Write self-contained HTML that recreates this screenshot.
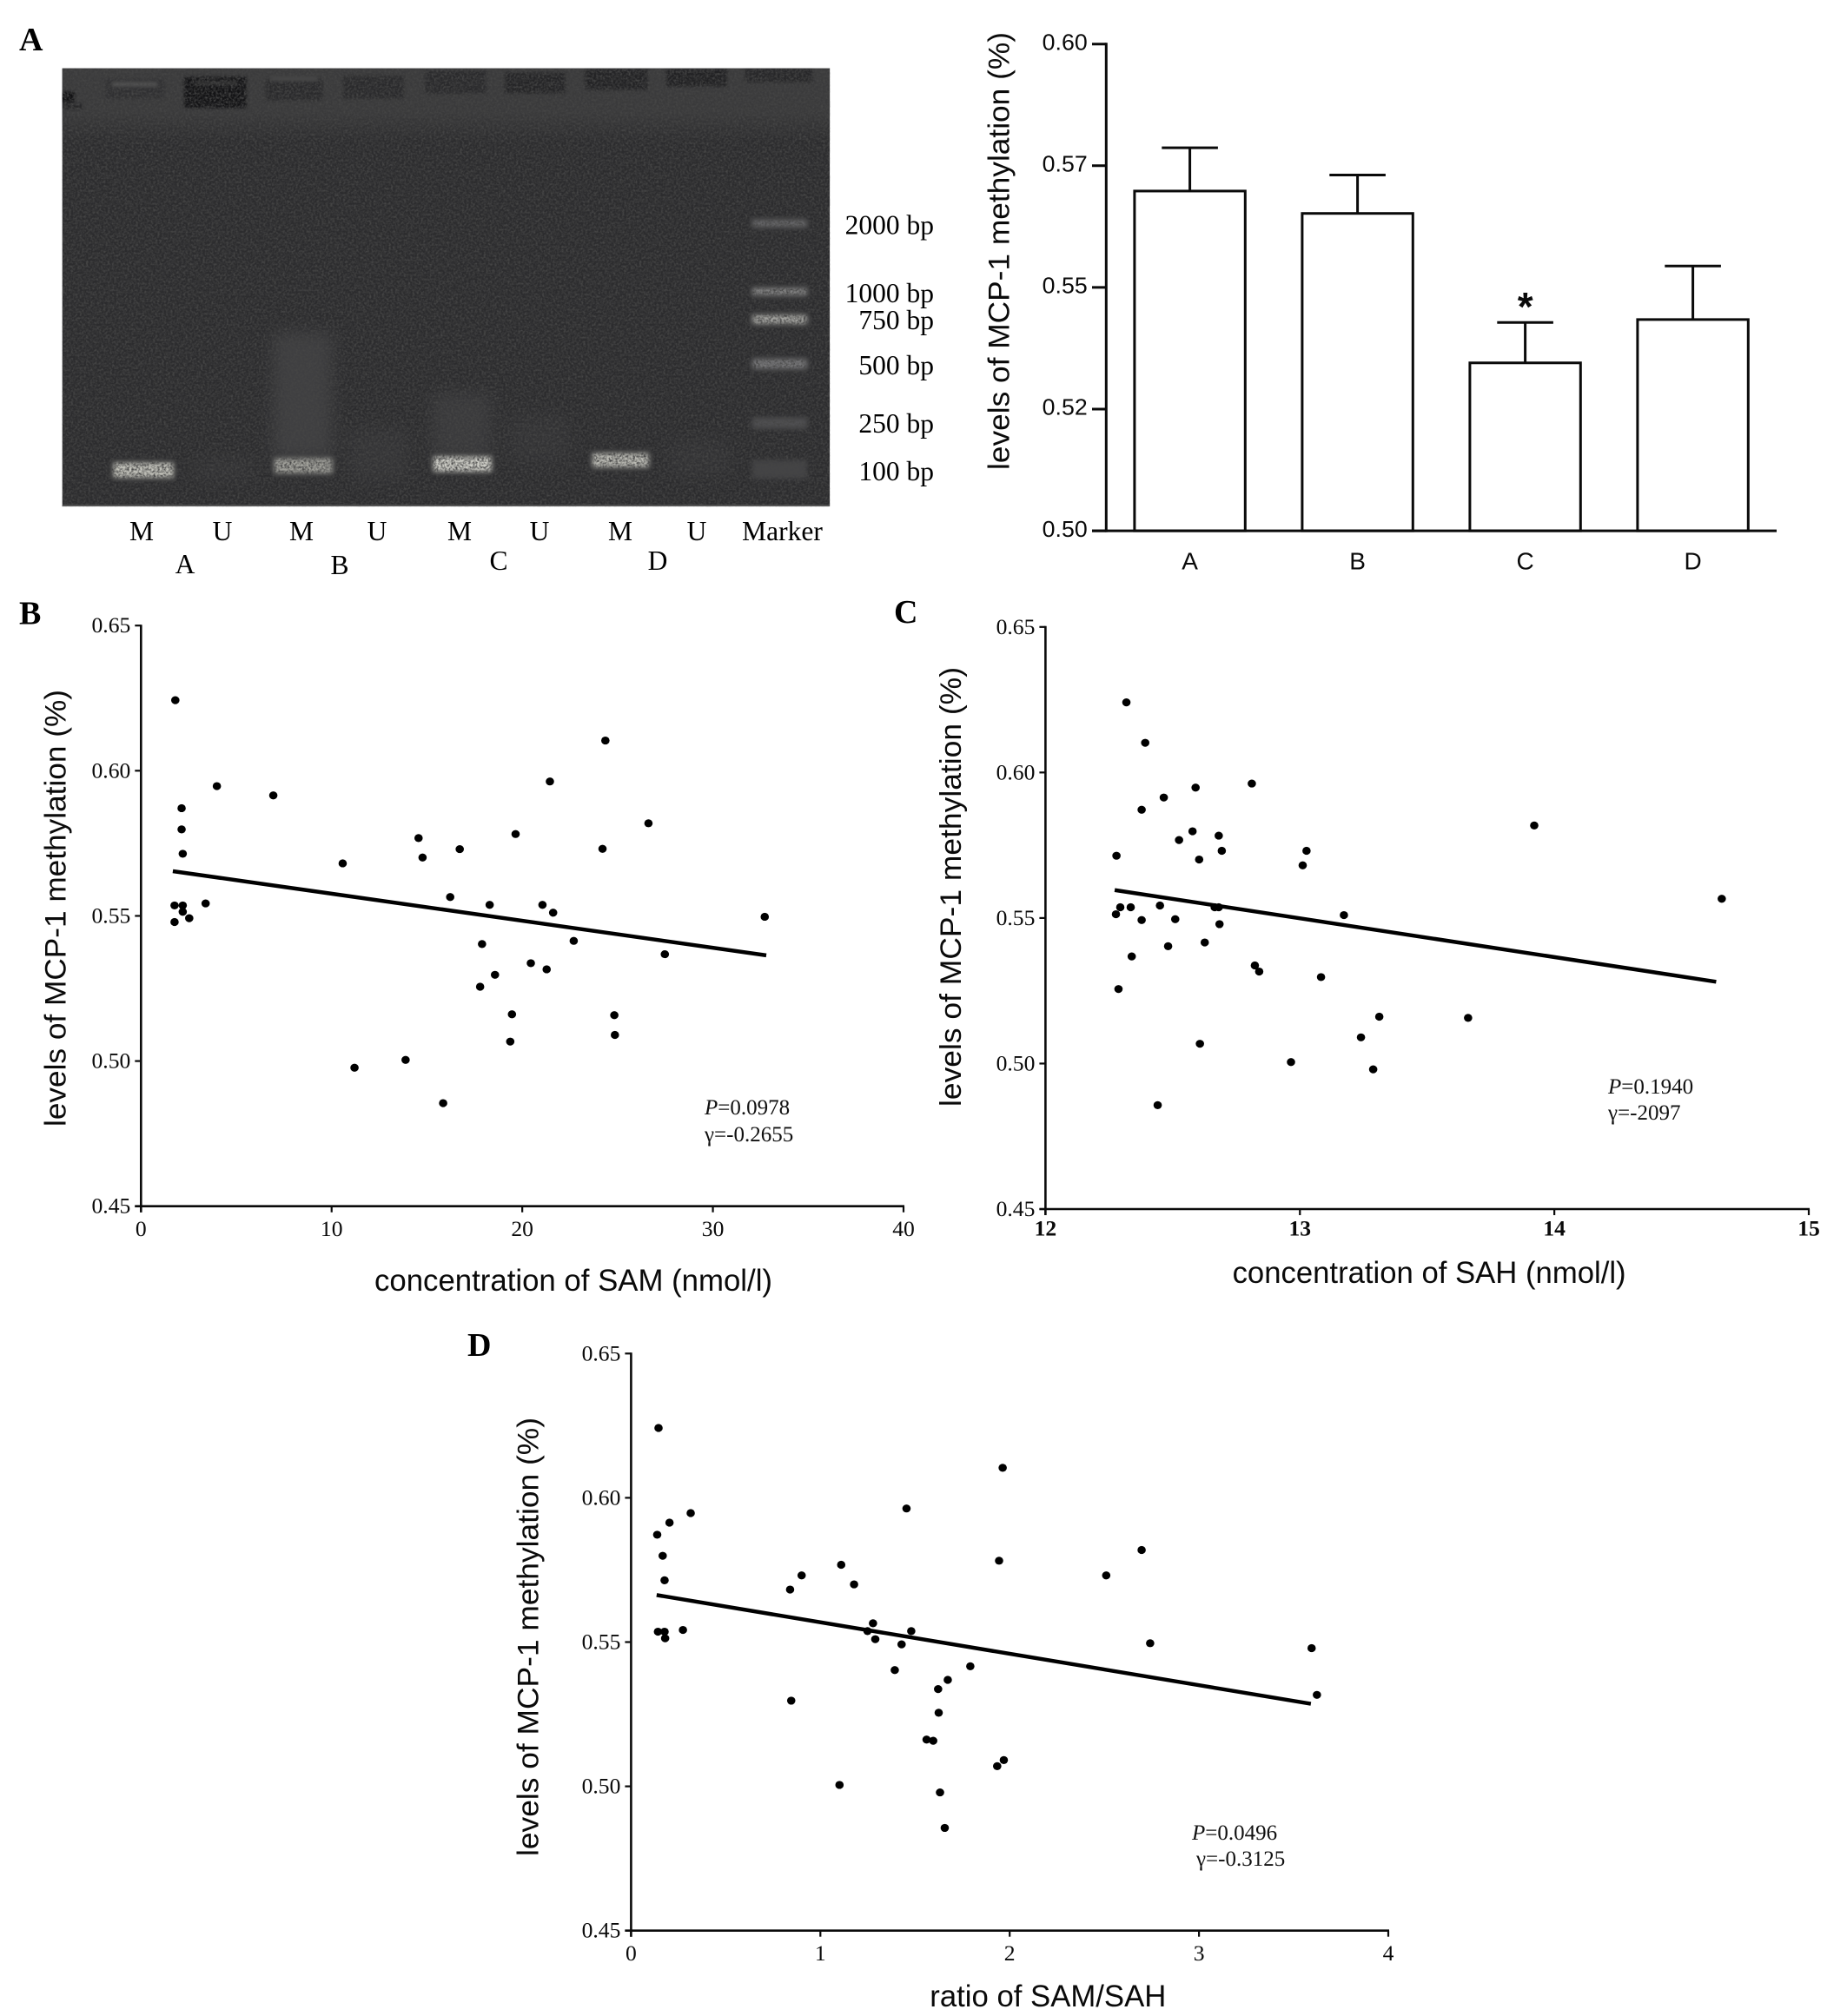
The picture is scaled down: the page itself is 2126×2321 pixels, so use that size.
<!DOCTYPE html>
<html lang="en">
<head>
<meta charset="utf-8">
<title>MCP-1 methylation figure</title>
<style>
html,body{margin:0;padding:0;background:#fff;width:2126px;height:2321px;overflow:hidden}
svg{display:block}
.serif{font-family:"Liberation Serif",serif}
.sans{font-family:"Liberation Sans",sans-serif}
</style>
</head>
<body>
<svg id="fig" xmlns="http://www.w3.org/2000/svg" width="2126" height="2321" viewBox="0 0 2126 2321">
<defs>
<filter id="b2" x="-30%" y="-60%" width="160%" height="220%" color-interpolation-filters="sRGB"><feGaussianBlur stdDeviation="3"/></filter>
<filter id="b1" x="-30%" y="-60%" width="160%" height="220%" color-interpolation-filters="sRGB"><feGaussianBlur stdDeviation="1.8"/></filter>
<filter id="b10" x="-40%" y="-40%" width="180%" height="180%" color-interpolation-filters="sRGB"><feGaussianBlur stdDeviation="9"/></filter>
<filter id="grain" x="0" y="0" width="100%" height="100%" color-interpolation-filters="sRGB"><feTurbulence type="fractalNoise" baseFrequency="0.4" numOctaves="2" seed="4"/><feColorMatrix type="matrix" values="0 0 0 0 0.27  0 0 0 0 0.27  0 0 0 0 0.27  1.6 1.6 0 0 -1.3"/></filter>
<linearGradient id="topFade" x1="0" y1="0" x2="0" y2="1"><stop offset="0" stop-color="#3b3b3c"/><stop offset="0.6" stop-color="#3a3a3b"/><stop offset="1" stop-color="#3a3a3b" stop-opacity="0"/></linearGradient>
<clipPath id="gelclip"><rect x="72" y="79" width="888" height="507"/></clipPath>
</defs>
<rect x="0" y="0" width="2126" height="2321" fill="#fff"/>

<g id="gel" clip-path="url(#gelclip)" transform="scale(0.995)">
  <rect x="72" y="79" width="888" height="507" fill="#2c2c2e"/>
  <rect x="72" y="79" width="888" height="85" fill="url(#topFade)"/>
  <g filter="url(#b1)">
    <rect x="70" y="106" width="16" height="12" fill="#0d0d0f"/>
    <rect x="72" y="120" width="24" height="6" fill="#262628"/>
    <rect x="122" y="92" width="68" height="22" fill="#303032"/>
    <rect x="130" y="95" width="52" height="5" fill="#565656"/>
    <rect x="213" y="89" width="72" height="36" fill="#131315"/>
    <rect x="225" y="94" width="50" height="4" fill="#383838"/>
    <rect x="307" y="92" width="66" height="24" fill="#2a2a2c"/>
    <rect x="313" y="89" width="54" height="5" fill="#484848"/>
    <rect x="397" y="88" width="70" height="26" fill="#2a2a2c"/>
    <rect x="492" y="82" width="70" height="26" fill="#2a2a2c"/>
    <rect x="584" y="84" width="70" height="24" fill="#252527"/>
    <rect x="677" y="80" width="72" height="24" fill="#232325"/>
    <rect x="771" y="80" width="70" height="20" fill="#212123"/>
    <rect x="862" y="79" width="78" height="16" fill="#272729"/>
  </g>
  <g filter="url(#b10)">
    <rect x="316" y="385" width="68" height="145" fill="#3f3f41"/>
    <rect x="500" y="455" width="68" height="75" fill="#3a3a3c"/>
    <rect x="404" y="495" width="68" height="60" fill="#343436"/>
    <rect x="590" y="480" width="68" height="55" fill="#333335"/>
    <rect x="775" y="510" width="68" height="40" fill="#333335"/>
    <rect x="225" y="530" width="68" height="25" fill="#333335"/>
  </g>
  <g>
    <rect x="131" y="535" width="70" height="18" fill="#c4c4bc" filter="url(#b2)"/>
    <rect x="317" y="530" width="68" height="18" fill="#a2a29c" filter="url(#b2)"/>
    <rect x="501" y="528" width="68" height="18" fill="#cfcfc8" filter="url(#b2)"/>
    <rect x="685" y="524" width="66" height="17" fill="#bcbcb5" filter="url(#b2)"/>
  </g>
  <g filter="url(#b2)">
    <rect x="870" y="254" width="64" height="9" fill="#6b6b6d"/>
    <rect x="870" y="333" width="64" height="9" fill="#8a8a8a"/>
    <rect x="870" y="364" width="64" height="11" fill="#a8a8a4"/>
    <rect x="870" y="415" width="64" height="12" fill="#7a7a7c"/>
    <rect x="870" y="483" width="64" height="13" fill="#505052"/>
    <rect x="870" y="532" width="64" height="22" fill="#434345"/>
  </g>
  <rect x="72" y="79" width="888" height="507" filter="url(#grain)"/>
  <rect x="72" y="584" width="888" height="2" fill="#555"/>
</g>

<g class="serif" fill="#000" font-size="31.5" text-anchor="end">
  <text x="1075" y="269.5">2000 bp</text>
  <text x="1075" y="348">1000 bp</text>
  <text x="1075" y="379">750 bp</text>
  <text x="1075" y="431">500 bp</text>
  <text x="1075" y="498">250 bp</text>
  <text x="1075" y="553">100 bp</text>
</g>
<g class="serif" fill="#000" font-size="31.5" text-anchor="middle">
  <text x="163" y="622">M</text>
  <text x="256" y="622">U</text>
  <text x="347" y="622">M</text>
  <text x="434" y="622">U</text>
  <text x="529" y="622">M</text>
  <text x="621" y="622">U</text>
  <text x="714" y="622">M</text>
  <text x="802" y="622">U</text>
  <text x="900.5" y="622">Marker</text>
  <text x="213" y="660">A</text>
  <text x="391" y="661">B</text>
  <text x="574" y="656">C</text>
  <text x="757" y="656">D</text>
</g>

<g class="serif" fill="#000" font-size="38" font-weight="700">
  <text x="22" y="58">A</text>
  <text x="22" y="718.5">B</text>
  <text x="1029" y="717">C</text>
  <text x="538" y="1561">D</text>
</g>

<g id="barChart"></g>
<g id="scatterB"></g>
<g id="scatterC"></g>
<g id="scatterD"></g>

<g class="serif" fill="#111" font-size="25">
  <text x="811" y="1283"><tspan font-style="italic">P</tspan>=0.0978</text>
  <text x="811" y="1314">γ=-0.2655</text>
  <text x="1851" y="1259"><tspan font-style="italic">P</tspan>=0.1940</text>
  <text x="1851" y="1289">γ=-2097</text>
  <text x="1372" y="2118"><tspan font-style="italic">P</tspan>=0.0496</text>
  <text x="1377" y="2148">γ=-0.3125</text>
</g>
</svg>

<script>
// Bar chart data
const barCategories = ["A", "B", "C", "D"];
const barValues = [0.5698, 0.5652, 0.5345, 0.5434];
const barErrorTops = [0.5787, 0.5731, 0.5428, 0.5544];
const barTickValues = [0.50, 0.525, 0.55, 0.575, 0.60];
const barTickLabels = ["0.50", "0.52", "0.55", "0.57", "0.60"];

// Shared y ticks for scatter panels
const methylTicks = [0.45, 0.50, 0.55, 0.60, 0.65];
const methylTickLabels = ["0.45", "0.50", "0.55", "0.60", "0.65"];

// Panel B: SAM
const samX = [1.80,24.36,21.45,3.98,6.94,2.13,2.13,26.62,19.65,14.56,2.19,14.77,16.72,24.21,10.58,16.22,1.76,2.19,2.19,3.39,2.53,1.76,18.29,21.06,21.62,32.72,22.70,17.89,27.48,20.45,21.28,18.57,17.79,19.46,24.83,24.86,19.37,11.20,13.88,15.85];
const samY = [0.6243,0.6104,0.5963,0.5947,0.5915,0.5871,0.5798,0.5819,0.5782,0.5768,0.5714,0.5701,0.5730,0.5731,0.5681,0.5565,0.5536,0.5536,0.5514,0.5543,0.5492,0.5479,0.5538,0.5538,0.5511,0.5497,0.5414,0.5403,0.5368,0.5337,0.5316,0.5297,0.5256,0.5161,0.5158,0.5090,0.5067,0.4977,0.5004,0.4855];
const samFitX = [1.67, 32.8];
const samFitY = [0.5654, 0.5364];
const samTicks = [0, 10, 20, 30, 40];

// Panel C: SAH
const sahX = [12.318,12.392,12.811,12.590,12.465,12.378,13.921,12.578,12.681,12.525,12.279,12.604,12.693,13.026,13.011,14.658,12.294,12.335,12.277,12.450,12.510,12.378,12.665,12.681,12.684,13.173,12.626,12.482,12.339,12.823,12.840,13.083,12.287,13.312,13.661,13.240,12.607,12.965,13.288,12.441];
const sahY = [0.6241,0.6102,0.5962,0.5948,0.5914,0.5872,0.5818,0.5798,0.5783,0.5768,0.5714,0.5701,0.5731,0.5731,0.5681,0.5566,0.5537,0.5537,0.5513,0.5543,0.5496,0.5493,0.5537,0.5537,0.5479,0.5510,0.5416,0.5403,0.5368,0.5337,0.5316,0.5297,0.5256,0.5161,0.5157,0.5090,0.5068,0.5005,0.4980,0.4857];
const sahFitX = [12.272, 14.636];
const sahFitY = [0.5596, 0.5281];
const sahTicks = [12, 13, 14, 15];

// Panel D: ratio
const ratioX = [0.145,1.963,1.455,0.315,0.203,0.138,2.697,0.167,1.944,1.110,0.177,1.178,0.901,2.510,0.840,1.278,0.142,0.177,0.180,0.274,1.429,3.595,1.249,1.480,1.290,2.742,1.792,1.393,1.673,1.622,3.623,0.846,1.625,1.561,1.596,1.969,1.934,1.101,1.632,1.657];
const ratioY = [0.6242,0.6104,0.5963,0.5947,0.5914,0.5872,0.5819,0.5799,0.5782,0.5768,0.5714,0.5700,0.5731,0.5731,0.5682,0.5565,0.5536,0.5536,0.5513,0.5542,0.5492,0.5479,0.5538,0.5538,0.5510,0.5496,0.5416,0.5403,0.5369,0.5337,0.5317,0.5297,0.5255,0.5162,0.5158,0.5091,0.5070,0.5005,0.4979,0.4856];
const ratioFitX = [0.135, 3.591];
const ratioFitY = [0.5663, 0.5286];
const ratioTicks = [0, 1, 2, 3, 4];

const SVGNS = "http://www.w3.org/2000/svg";

function make(parent, tag, attrs, text) {
  const el = document.createElementNS(SVGNS, tag);
  for (const k in attrs) el.setAttribute(k, attrs[k]);
  if (text !== undefined) el.textContent = text;
  parent.appendChild(el);
  return el;
}

function linear(d0, d1, r0, r1) {
  return function (v) { return r0 + (v - d0) * (r1 - r0) / (d1 - d0); };
}

function drawBars() {
  const g = document.getElementById("barChart");
  const baseY = 611.1;
  const y = linear(0.50, 0.60, baseY, 50.7);
  const band = 193;
  const first = 1369.6;
  const barW = 127.4;
  const ink = "#0a0a0a";

  barCategories.forEach(function (cat, i) {
    const cx = first + band * i;
    const top = y(barValues[i]);
    const errTop = y(barErrorTops[i]);

    const bar = make(g, "rect", { x: cx - barW / 2, y: top, width: barW, height: baseY - top, fill: "#fff", stroke: ink, "stroke-width": 3 });
    
    

    const stem = make(g, "line", { x1: cx, x2: cx, y1: top, y2: errTop, stroke: ink, "stroke-width": 3 });
    
    

    const cap = make(g, "line", { x1: cx - 32.3, x2: cx + 32.3, y1: errTop, y2: errTop, stroke: ink, "stroke-width": 3 });
    
    

    const lab = make(g, "text", { x: cx, y: 655.7, "text-anchor": "middle", class: "sans", "font-size": 28, fill: ink }, cat);
    
    
  });

  const yAxis = make(g, "line", { x1: 1273.3, x2: 1273.3, y1: 49.2, y2: baseY + 1.5, stroke: ink, "stroke-width": 3 });
  
  

  const xAxis = make(g, "line", { x1: 1257, x2: 2045, y1: baseY, y2: baseY, stroke: ink, "stroke-width": 3 });
  
  

  barTickValues.forEach(function (v, i) {
    const ty = y(v);
    const tick = make(g, "line", { x1: 1257, x2: 1273.3, y1: ty, y2: ty, stroke: ink, "stroke-width": 3 });
    
    

    const lab = make(g, "text", { x: 1251.7, y: ty + 6.7, "text-anchor": "end", class: "sans", "font-size": 26, textLength: 52, lengthAdjust: "spacingAndGlyphs", fill: ink }, barTickLabels[i]);
    
    
  });

  const title = make(g, "text", { transform: "translate(1161.7,541) rotate(-90)", class: "sans", "font-size": 34, textLength: 504, lengthAdjust: "spacingAndGlyphs", fill: ink }, "levels of MCP-1 methylation (%)");
  
  

  const star = make(g, "text", { x: 1755.7, y: 369, "text-anchor": "middle", class: "sans", "font-size": 46, "font-weight": 700, fill: ink }, "*");
  
  
}

function drawScatter(id, xs, ys, fitX, fitY, xTicks, o) {
  const g = document.getElementById(id);
  const x = linear(xTicks[0], xTicks[xTicks.length - 1], o.left, o.right);
  const y = linear(0.45, 0.65, o.bottom, o.top);
  const ink = "#0a0a0a";

  const yAxis = make(g, "line", { x1: o.left, x2: o.left, y1: o.top - 1, y2: o.bottom + 7, stroke: ink, "stroke-width": 2.6 });
  
  

  const xAxis = make(g, "line", { x1: o.left - 7, x2: o.right + 1, y1: o.bottom, y2: o.bottom, stroke: ink, "stroke-width": 2.6 });
  
  

  methylTicks.forEach(function (v, i) {
    const ty = y(v);
    const tick = make(g, "line", { x1: o.left - 7, x2: o.left, y1: ty, y2: ty, stroke: ink, "stroke-width": 2.2 });
    
    

    const lab = make(g, "text", { x: o.left - 12, y: ty + 8, "text-anchor": "end", class: "serif", "font-size": 25.6, fill: ink }, methylTickLabels[i]);
    
    
  });

  xTicks.forEach(function (v) {
    const tx = x(v);
    const tick = make(g, "line", { x1: tx, x2: tx, y1: o.bottom, y2: o.bottom + 7, stroke: ink, "stroke-width": 2.2 });
    
    

    const lab = make(g, "text", { x: tx, y: o.xTickY, "text-anchor": "middle", class: "serif", "font-size": 25.6, "font-weight": o.xBold ? 700 : 400, fill: ink }, String(v));
    
    
  });

  xs.forEach(function (v, i) {
    const dot = make(g, "ellipse", { cx: x(v), cy: y(ys[i]), rx: 4.8, ry: 4.6, fill: "#000" });
    
    
  });

  const fit = make(g, "line", { x1: x(fitX[0]), y1: y(fitY[0]), x2: x(fitX[1]), y2: y(fitY[1]), stroke: "#000", "stroke-width": 4.5 });
  
  

  const yTitle = make(g, "text", { transform: "translate(" + o.yTitleX + "," + o.yTitleY + ") rotate(-90)", class: "sans", "font-size": 34, textLength: o.yTitleLen, lengthAdjust: "spacingAndGlyphs", fill: ink }, "levels of MCP-1 methylation (%)");
  
  

  const xTitle = make(g, "text", { x: o.xTitleX, y: o.xTitleY, class: "sans", "font-size": 35, textLength: o.xTitleLen, lengthAdjust: "spacingAndGlyphs", fill: ink }, o.xTitle);
  
  
}

drawBars();
drawScatter("scatterB", samX, samY, samFitX, samFitY, samTicks, {
  left: 162.3, right: 1040, top: 720.2, bottom: 1388.7, xTickY: 1423,
  yTitleX: 75.6, yTitleY: 1297, yTitleLen: 503,
  xTitleX: 431, xTitleY: 1486, xTitleLen: 458, xTitle: "concentration of SAM (nmol/l)"
});
drawScatter("scatterC", sahX, sahY, sahFitX, sahFitY, sahTicks, {
  left: 1203.4, right: 2082, top: 721.8, bottom: 1392, xTickY: 1422.7, xBold: true,
  yTitleX: 1106, yTitleY: 1274, yTitleLen: 506,
  xTitleX: 1418.6, xTitleY: 1477, xTitleLen: 453, xTitle: "concentration of SAH (nmol/l)"
});
drawScatter("scatterD", ratioX, ratioY, ratioFitX, ratioFitY, ratioTicks, {
  left: 726.4, right: 1598, top: 1558.3, bottom: 2222.7, xTickY: 2257,
  yTitleX: 619.6, yTitleY: 2137, yTitleLen: 505,
  xTitleX: 1070.3, xTitleY: 2310, xTitleLen: 272, xTitle: "ratio of SAM/SAH"
});
</script>
</body>
</html>
